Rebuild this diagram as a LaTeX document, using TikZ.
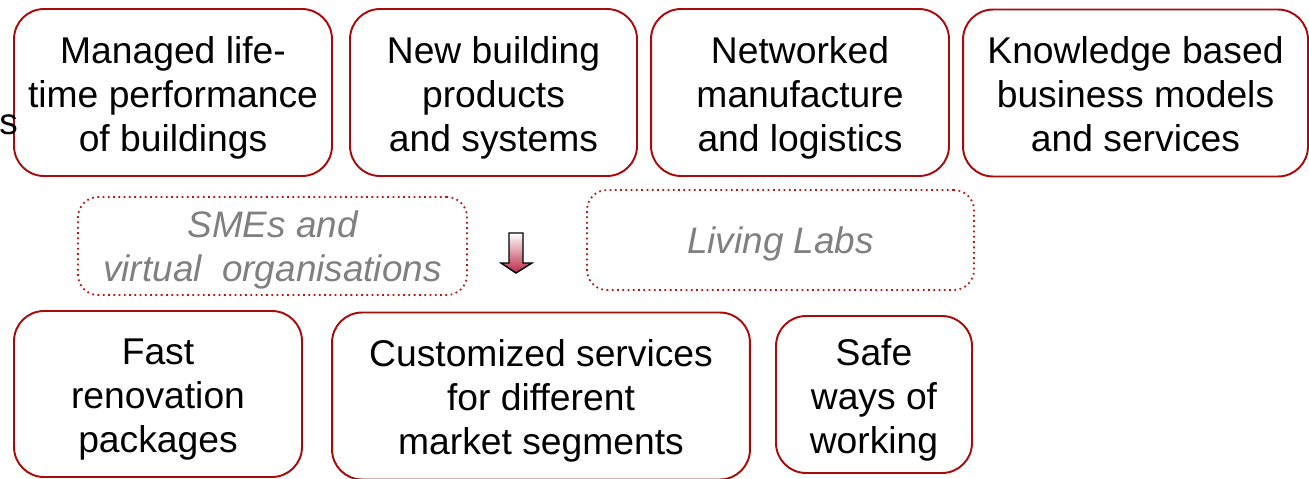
\documentclass[tikz,border=0pt]{standalone}
\usepackage{fontspec}
\setmainfont{Liberation Sans}
\usepackage{tikz}

\definecolor{boxred}{RGB}{170,10,10}
\definecolor{dotred}{RGB}{190,20,20}
\definecolor{labelgray}{RGB}{128,128,128}
\definecolor{arrowred}{RGB}{185,40,70}

% pushes the first line of a box a little lower
\newcommand{\lift}{\rule{0pt}{21pt}}

\begin{document}
\begin{tikzpicture}[x=0.02cm, y=-0.02cm,
  goal/.style={draw=boxred, line width=1.1pt, rounded corners=0.6cm, align=center,
    font=\fontsize{21.2}{25}\selectfont, inner sep=0pt},
  theme/.style={draw=dotred, dotted, line width=1pt, rounded corners=0.4cm, align=center,
    text=labelgray, font=\fontsize{21}{25}\selectfont\itshape, inner sep=0pt}]

\useasboundingbox (0,0) rectangle (1309,478);

\node[goal, minimum width=6.36cm, minimum height=3.34cm] (life) at (173,92.5) {\lift Managed life-\\time performance \\of buildings};
\node[goal, minimum width=5.74cm, minimum height=3.34cm] (products) at (493.5,92.5) {\lift New building\\products\\and systems};
\node[goal, minimum width=5.96cm, minimum height=3.34cm] (manufacture) at (800,92.5) {\lift Networked\\manufacture\\and logistics};
\node[goal, minimum width=6.9cm, minimum height=3.34cm] (business) at (1135.5,93) {\rule{0pt}{17pt}Knowledge based\\business models\\and services};

\node[anchor=west, inner sep=0pt, font=\fontsize{21}{25}\selectfont] (cut) at (-1,125) {s};

\node[theme, minimum width=7.78cm, minimum height=1.96cm] (sme) at (272.5,246) {\rule{0pt}{19.5pt}SMEs and\\virtual\ \ organisations};
\node[theme, minimum width=7.74cm, minimum height=2cm] (labs) at (780.5,240) {\rule{0pt}{19.5pt}Living Labs};

% block arrow
\draw[black, line width=0.8pt, top color=white, bottom color=arrowred]
  (509,233) -- (523,233) -- (523,263) -- (532,263) -- (516,273) -- (501,263) -- (509,263) -- cycle;

\node[goal, minimum width=5.76cm, minimum height=3.32cm] (renovation) at (158,394) {\lift Fast\\renovation\\packages};
\node[goal, minimum width=8.36cm, minimum height=3.34cm] (segments) at (541,396) {\lift Customized services\\for different\\market segments};
\node[goal, minimum width=3.92cm, minimum height=3.14cm] (safety) at (874,394.5) {\lift Safe\\ways of \\working};

\end{tikzpicture}
\end{document}
